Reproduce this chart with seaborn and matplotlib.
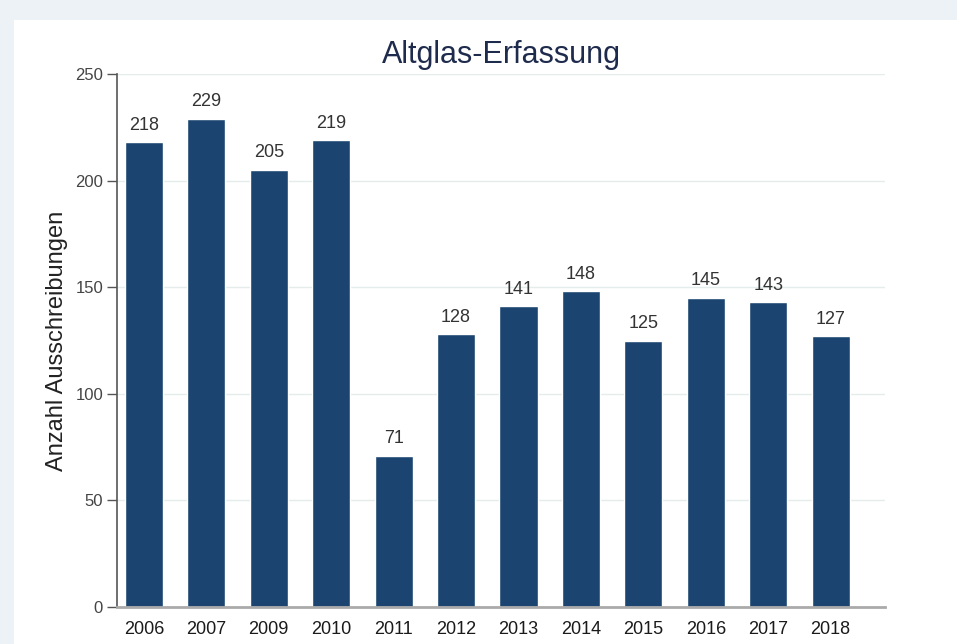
import matplotlib
matplotlib.use("Agg")
import matplotlib.pyplot as plt
import pandas as pd
import seaborn as sns
from matplotlib.patches import Rectangle

years = ["2006", "2007", "2009", "2010", "2011", "2012", "2013",
         "2014", "2015", "2016", "2017", "2018"]
counts = [218, 229, 205, 219, 71, 128, 141, 148, 125, 145, 143, 127]
yticks = [0, 50, 100, 150, 200, 250]

df = pd.DataFrame({"Jahr": years, "Anzahl": counts})

sns.set_theme(style="white")
plt.rcParams["font.family"] = ["Liberation Sans", "DejaVu Sans"]

fig = plt.figure(figsize=(9.57, 6.44), dpi=100)
fig.patch.set_facecolor("white")
# light page background strips around the white chart card
fig.patches.append(Rectangle((0, (644 - 20) / 644), 1, 20 / 644,
                             transform=fig.transFigure, facecolor="#edf2f7",
                             edgecolor="none", zorder=-5))
fig.patches.append(Rectangle((0, 0), 14 / 957, 1,
                             transform=fig.transFigure, facecolor="#edf2f7",
                             edgecolor="none", zorder=-5))

ax = fig.add_axes([117 / 957, 37 / 644, (885 - 117) / 957, (607 - 74) / 644])
ax.set_facecolor("none")

sns.barplot(data=df, x="Jahr", y="Anzahl", color="#1b4570", width=0.61,
            saturation=1, ax=ax, zorder=3)

for i, v in enumerate(counts):
    ax.text(i, v + 4, str(v), ha="center", va="bottom", fontsize=13,
            color="#333333")

ax.set_ylim(0, 250)
ax.set_xlim(-0.43, 11.87)
ax.set_yticks(yticks)
ax.set_yticklabels([str(t) for t in yticks], fontsize=12, color="#444444")
ax.tick_params(axis="y", left=True, length=7, width=1, color="#555555", pad=3)
ax.tick_params(axis="x", bottom=False, length=0, labelsize=13,
               labelcolor="#1a1a1a", pad=10)
for t in yticks[1:]:
    ax.axhline(t, color="#e4ecec", linewidth=1, zorder=1)

for s in ["top", "right"]:
    ax.spines[s].set_visible(False)
ax.spines["left"].set_color("#555555")
ax.spines["left"].set_linewidth(1.2)
ax.spines["bottom"].set_color("#aaaaaa")
ax.spines["bottom"].set_linewidth(2)
ax.spines["bottom"].set_zorder(4)

ax.set_xlabel("")
ax.set_ylabel("Anzahl Ausschreibungen", fontsize=17, color="#222222", labelpad=5)
ax.set_title("Altglas-Erfassung", fontsize=22, color="#1f2b4d", pad=8)

fig.savefig("out.png", dpi=100)
